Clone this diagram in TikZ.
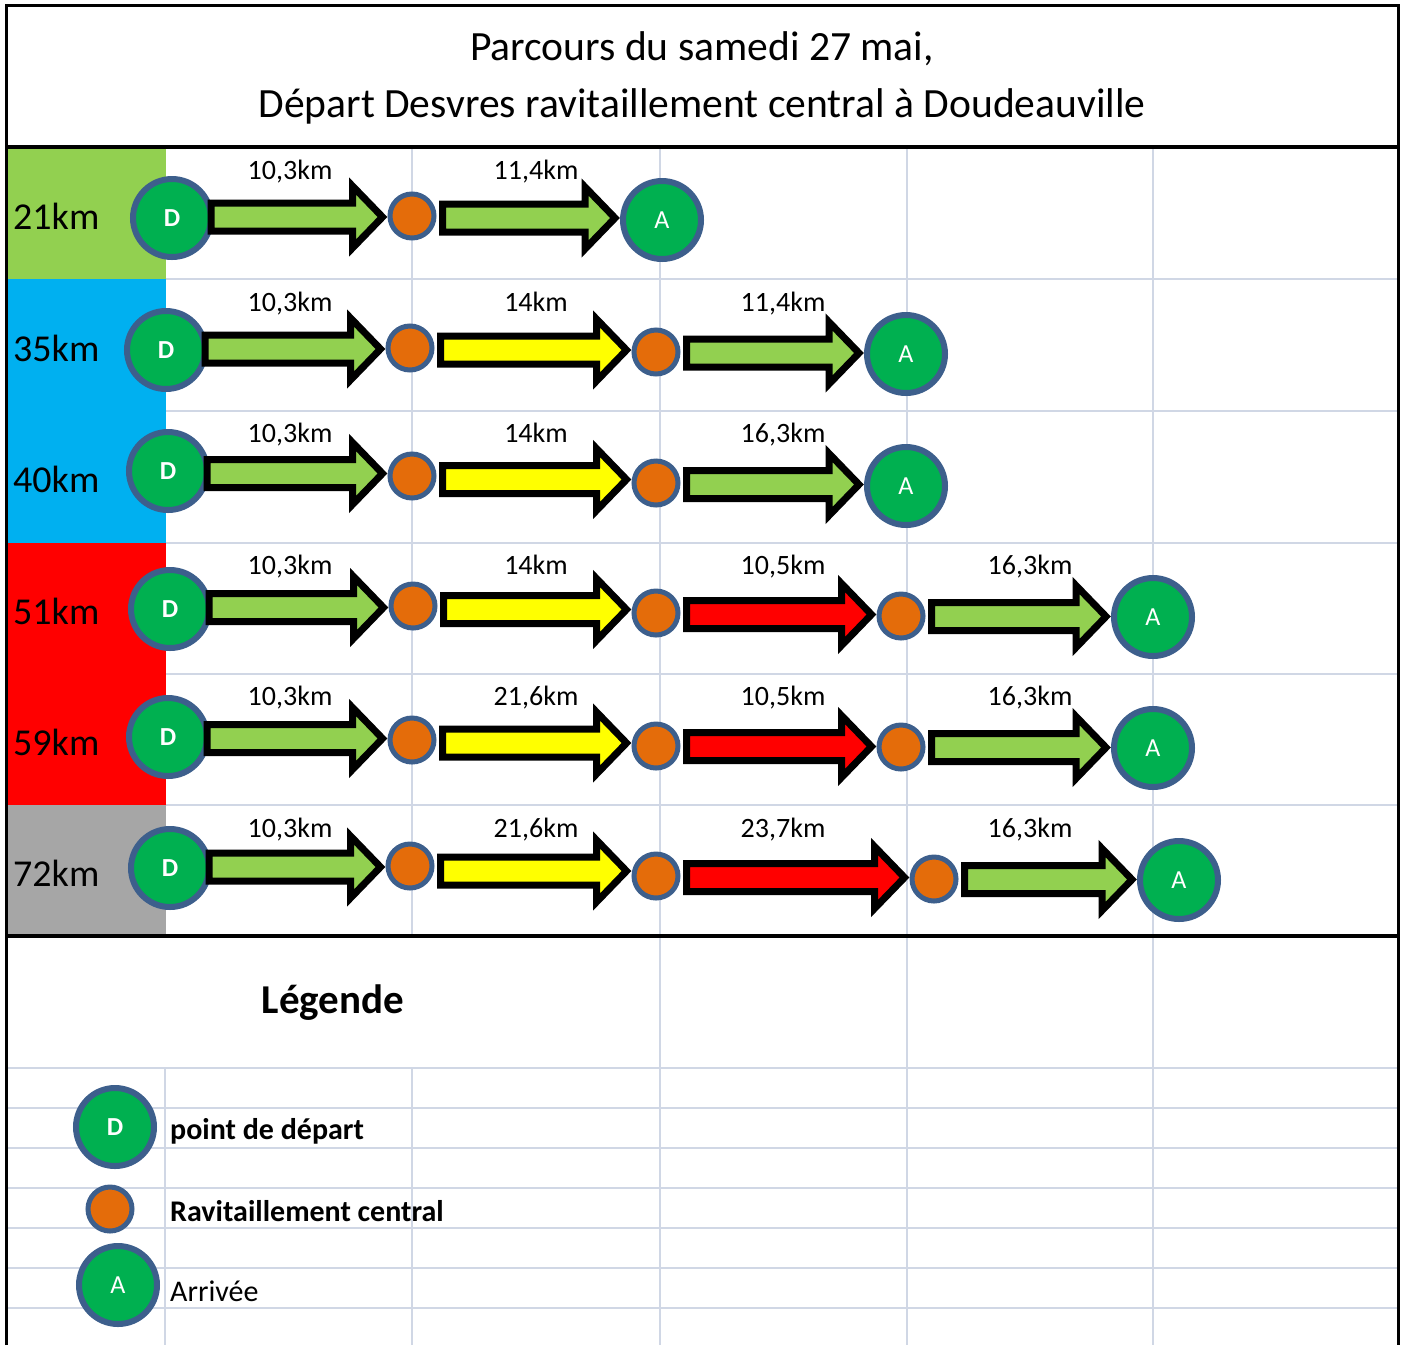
\documentclass[tikz,border=0pt]{standalone}
\usepackage{fontspec}
\setmainfont{Carlito}
\usetikzlibrary{calc}
\definecolor{vert}{HTML}{92D050}
\definecolor{bleu}{HTML}{00B0F0}
\definecolor{rouge}{HTML}{FF0000}
\definecolor{jaune}{HTML}{FFFF00}
\definecolor{gris}{HTML}{A6A6A6}
\definecolor{pastille}{HTML}{00B050}
\definecolor{bord}{HTML}{3D5F8C}
\definecolor{ravit}{HTML}{E46C0A}
\definecolor{grille}{HTML}{D0D7E5}
\begin{document}
\begin{tikzpicture}[x=1pt,y=-1pt,
  depart/.style={circle,draw=bord,line width=6pt,fill=pastille,minimum size=78pt,inner sep=0pt,
    text=white,font=\fontsize{26}{30}\selectfont\bfseries},
  arrivee/.style={depart,font=\fontsize{26}{30}\selectfont},
  ravito/.style={circle,draw=bord,line width=5pt,fill=ravit,minimum size=44pt,inner sep=0pt},
  km/.style={font=\fontsize{28}{34}\selectfont,anchor=base},
  dist/.style={font=\fontsize{38}{44}\selectfont,anchor=west,inner sep=0pt},
  debut/.store in=\debut, debut=-3pt,
  fleche/.style={draw=black,line width=7pt,line join=miter,fill=#1,
    to path={let \p1=(\tikztostart.east), \p2=(\tikztotarget.west), \n1={(\y1+\y2)/2} in
      (\x1+\debut,\n1+14pt) -- (\x2-35pt,\n1+14pt) -- (\x2-35pt,\n1+31pt) -- (\x2-5pt,\n1)
      -- (\x2-35pt,\n1-31pt) -- (\x2-35pt,\n1-14pt) -- (\x1+\debut,\n1-14pt) -- cycle}},
  suite/.style={fleche=#1,debut=6pt}]
  \useasboundingbox (0,0) rectangle (1407,1345);
  % colonne des distances
  \fill[vert] (8,149) rectangle (166,279);
  \fill[bleu] (8,279) rectangle (166,543);
  \fill[rouge] (8,543) rectangle (166,805);
  \fill[gris] (8,805) rectangle (166,936);
  % grille
  \begin{scope}[grille,line width=2pt]
    \foreach \x in {412,660,907,1153} \draw (\x,149) -- (\x,934);
    \foreach \y in {279,411,543,674,805} \draw (166,\y) -- (1397,\y);
    \foreach \x in {660,907,1153} \draw (\x,938) -- (\x,1345);
    \foreach \x in {165,412} \draw (\x,1068) -- (\x,1345);
    \foreach \y in {1068,1108,...,1308} \draw (8,\y) -- (1397,\y);
  \end{scope}
  % cadre
  \draw[line width=3pt] (6,1345) -- (6,5) -- (1398,5) -- (1398,1345);
  \draw[line width=4pt] (6,147) -- (1398,147) (6,936) -- (1398,936);
  \node[align=center,font=\fontsize{41.6}{57}\selectfont] (titre) at (702,78)
    {Parcours du samedi 27 mai,\\Départ Desvres ravitaillement central à Doudeauville};
  % 21km
  \node[dist] (l1) at (13,216) {21km};
  \node[depart] (d1) at (172,218) {D};
  \node[ravito] (r11) at (412,216) {};
  \node[arrivee] (a1) at (662,220) {A};
  \draw[fleche=vert] (d1) to (r11);
  \draw[suite=vert] (r11) to (a1);
  \node[km] at (290,179) {10,3km};
  \node[km] at (536,179) {11,4km};
  % 35km
  \node[dist] (l2) at (13,348) {35km};
  \node[depart] (d2) at (166,350) {D};
  \node[ravito] (r21) at (410,348) {};
  \node[ravito] (r22) at (656,352) {};
  \node[arrivee] (a2) at (906,354) {A};
  \draw[fleche=vert] (d2) to (r21);
  \draw[suite=jaune] (r21) to (r22);
  \draw[suite=vert] (r22) to (a2);
  \node[km] at (290,311) {10,3km};
  \node[km] at (536,311) {14km};
  \node[km] at (783,311) {11,4km};
  % 40km
  \node[dist] (l3) at (13,479) {40km};
  \node[depart] (d3) at (168,471) {D};
  \node[ravito] (r31) at (412,476) {};
  \node[ravito] (r32) at (656,483) {};
  \node[arrivee] (a3) at (906,486) {A};
  \draw[fleche=vert] (d3) to (r31);
  \draw[suite=jaune] (r31) to (r32);
  \draw[suite=vert] (r32) to (a3);
  \node[km] at (290,442) {10,3km};
  \node[km] at (536,442) {14km};
  \node[km] at (783,442) {16,3km};
  % 51km
  \node[dist] (l4) at (13,611) {51km};
  \node[depart] (d4) at (170,609) {D};
  \node[ravito] (r41) at (413,606) {};
  \node[ravito] (r42) at (656,613) {};
  \node[ravito] (r43) at (901,616) {};
  \node[arrivee] (a4) at (1153,617) {A};
  \draw[fleche=vert] (d4) to (r41);
  \draw[suite=jaune] (r41) to (r42);
  \draw[suite=rouge] (r42) to (r43);
  \draw[suite=vert] (r43) to (a4);
  \node[km] at (290,574) {10,3km};
  \node[km] at (536,574) {14km};
  \node[km] at (783,574) {10,5km};
  \node[km] at (1030,574) {16,3km};
  % 59km
  \node[dist] (l5) at (13,742) {59km};
  \node[depart] (d5) at (168,737) {D};
  \node[ravito] (r51) at (412,740) {};
  \node[ravito] (r52) at (656,746) {};
  \node[ravito] (r53) at (901,747) {};
  \node[arrivee] (a5) at (1153,748) {A};
  \draw[fleche=vert] (d5) to (r51);
  \draw[suite=jaune] (r51) to (r52);
  \draw[suite=rouge] (r52) to (r53);
  \draw[suite=vert] (r53) to (a5);
  \node[km] at (290,705) {10,3km};
  \node[km] at (536,705) {21,6km};
  \node[km] at (783,705) {10,5km};
  \node[km] at (1030,705) {16,3km};
  % 72km
  \node[dist] (l6) at (13,873) {72km};
  \node[depart] (d6) at (170,868) {D};
  \node[ravito] (r61) at (410,866) {};
  \node[ravito] (r62) at (656,876) {};
  \node[ravito] (r63) at (934,879) {};
  \node[arrivee] (a6) at (1179,880) {A};
  \draw[fleche=vert] (d6) to (r61);
  \draw[suite=jaune] (r61) to (r62);
  \draw[suite=rouge] (r62) to (r63);
  \draw[suite=vert] (r63) to (a6);
  \node[km] at (290,837) {10,3km};
  \node[km] at (536,837) {21,6km};
  \node[km] at (783,837) {23,7km};
  \node[km] at (1030,837) {16,3km};
  % legende
  \node[font=\fontsize{41}{48}\selectfont\bfseries] (leg) at (333,1003) {Légende};
  \node[depart] (d0) at (115,1127) {D};
  \node[ravito] (r0) at (110,1209) {};
  \node[arrivee] (a0) at (118,1285) {A};
  \node[anchor=west,inner sep=0pt,font=\fontsize{30}{36}\selectfont\bfseries] at (170,1131) {point de départ};
  \node[anchor=west,inner sep=0pt,font=\fontsize{30}{36}\selectfont\bfseries] at (170,1211) {Ravitaillement central};
  \node[anchor=west,inner sep=0pt,font=\fontsize{30}{36}\selectfont] at (170,1291) {Arrivée};
\end{tikzpicture}
\end{document}
